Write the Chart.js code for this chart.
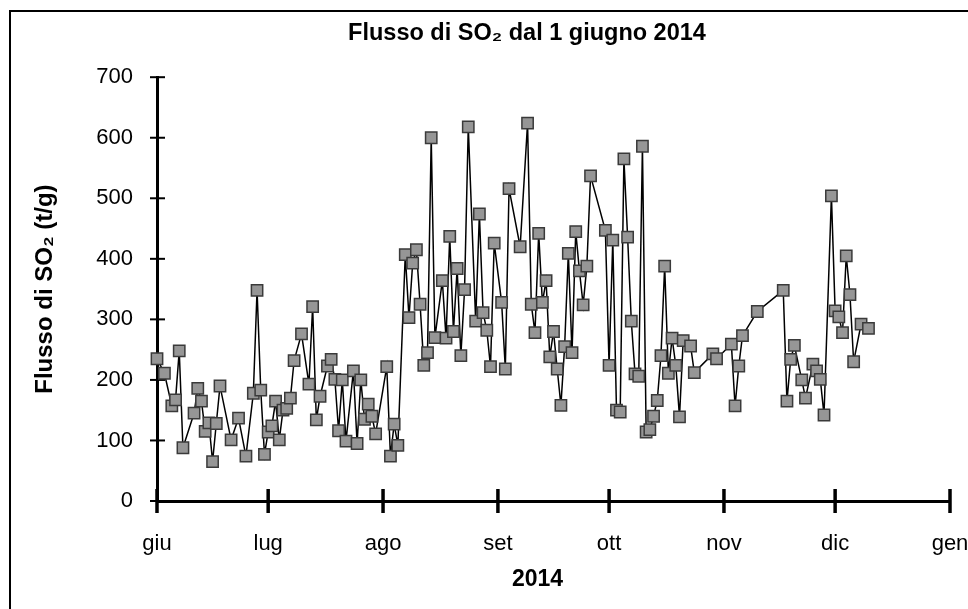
<!DOCTYPE html>
<html>
<head>
<meta charset="utf-8">
<script src="https://cdn.jsdelivr.net/npm/chart.js@4.4.1/dist/chart.umd.min.js"></script>
<style>
  html, body { margin: 0; padding: 0; background: #fff; overflow: hidden; }
  #riquadro {
    position: absolute; left: 9px; top: 10px;
    width: 1032px; height: 640px;
    border: 2px solid #000;
  }
  #grafico { display: block; }
</style>
</head>
<body>
<div id="riquadro"><canvas id="grafico" width="1032" height="640"></canvas></div>
<script>
// giorni dal 1 giugno 2014
const giorni = [0,2,4,5,6,7,10,11,12,13,14,15,16,17,20,22,24,26,27,28,
  29,30,31,32,33,34,35,36,37,39,41,42,43,44,46,47,48,49,50,51,
  53,54,55,56,57,58,59,62,63,64,65,67,68,69,70,71,72,73,74,75,
  77,78,79,80,81,82,83,84,86,87,88,89,90,91,93,94,95,98,100,101,
  102,103,104,105,106,107,108,109,110,111,112,113,114,115,116,117,121,122,123,124,
  125,126,127,128,129,130,131,132,133,134,135,136,137,138,139,140,141,142,144,145,
  150,151,155,156,157,158,162,169,170,171,172,174,175,177,178,179,180,182,183,184,
  185,186,187,188,190,192];

// flusso di SO2 (t/g)
const flusso = [235,211,157,167,248,88,145,186,165,115,129,65,128,190,101,137,74,178,348,183,
  77,114,124,165,101,150,153,170,232,276,193,321,134,173,223,234,201,116,200,99,
  215,95,200,135,160,140,111,222,74,127,92,407,303,393,415,325,224,245,600,270,
  364,269,437,280,384,240,349,618,297,474,311,282,222,426,328,218,516,420,624,325,
  278,442,328,364,238,280,218,158,255,409,245,445,380,324,388,537,447,224,431,150,
  147,565,436,297,210,206,586,114,118,140,166,240,388,211,269,224,139,265,256,212,
  243,235,259,157,223,273,313,348,165,234,257,200,170,226,215,201,142,504,314,304,
  278,405,341,230,292,285];

// inizio di ogni mese (giorni dal 1 giugno) e nomi
const inizioMesi = [0, 30, 61, 92, 122, 153, 183, 214];
const nomiMesi = ['giu', 'lug', 'ago', 'set', 'ott', 'nov', 'dic', 'gen'];

const font = "'Liberation Sans', Arial, sans-serif";

// tacche a croce sugli assi
const tacche = {
  id: 'tacche',
  beforeDatasetsDraw(chart) {
    const { ctx, scales: { x, y } } = chart;
    ctx.save();
    ctx.strokeStyle = '#000';
    ctx.lineWidth = 2;
    y.ticks.forEach(t => {
      const py = y.getPixelForValue(t.value);
      ctx.beginPath();
      ctx.moveTo(x.left - 7, py);
      ctx.lineTo(x.left + 8, py);
      ctx.stroke();
    });
    ctx.lineWidth = 3.5;
    x.ticks.forEach(t => {
      const px = x.getPixelForValue(t.value);
      ctx.beginPath();
      ctx.moveTo(px, y.bottom - 12);
      ctx.lineTo(px, y.bottom + 12);
      ctx.stroke();
    });
    ctx.restore();
  }
};

const punti = giorni.map((g, i) => ({ x: g, y: flusso[i] }));

new Chart(document.getElementById('grafico'), {
  type: 'line',
  data: {
    datasets: [{
      data: punti,
      borderColor: '#000',
      borderWidth: 1.5,
      pointStyle: 'rect',
      pointRadius: 8,
      pointBackgroundColor: '#969696',
      pointBorderColor: '#3a3a3a',
      pointBorderWidth: 1.5,
      tension: 0,
      clip: false
    }]
  },
  options: {
    responsive: false,
    animation: false,
    devicePixelRatio: 1,
    layout: { padding: { left: 0, right: 0, top: 0, bottom: 41 } },
    plugins: {
      legend: { display: false },
      tooltip: { enabled: false },
      title: {
        display: true,
        text: 'Flusso di SO\u2082 dal 1 giugno 2014',
        color: '#000',
        font: { family: font, size: 23.5, weight: 'bold' },
        padding: { top: 7, bottom: 30 }
      }
    },
    scales: {
      x: {
        type: 'linear',
        min: 0,
        max: 214,
        afterBuildTicks: s => { s.ticks = inizioMesi.map(v => ({ value: v })); },
        afterFit: s => { s.height = 110; },
        grid: { display: false, drawTicks: false },
        border: { display: true, color: '#000', width: 3 },
        ticks: {
          color: '#000',
          font: { family: font, size: 22 },
          padding: 30,
          maxRotation: 0,
          autoSkip: false,
          callback: v => nomiMesi[inizioMesi.indexOf(v)]
        },
        title: {
          display: true,
          text: '2014\u00a0\u00a0\u00a0\u00a0\u00a0',
          color: '#000',
          font: { family: font, size: 23, weight: 'bold' },
          padding: { top: 0, bottom: 18 }
        }
      },
      y: {
        min: 0,
        max: 700,
        afterFit: s => { s.width = 146; },
        grid: { display: false, drawTicks: false },
        border: { display: true, color: '#000', width: 3 },
        ticks: {
          stepSize: 100,
          color: '#000',
          font: { family: font, size: 22 },
          padding: 24
        },
        title: {
          display: true,
          text: 'Flusso di SO\u2082 (t/g)',
          color: '#000',
          font: { family: font, size: 24, weight: 'bold' },
          padding: { top: 20, bottom: 0 }
        }
      },
      // spazio vuoto a destra dell'area del grafico
      destra: {
        type: 'linear',
        axis: 'y',
        position: 'right',
        afterFit: s => { s.width = 93; },
        grid: { display: false, drawTicks: false },
        border: { display: false },
        ticks: { display: false }
      }
    }
  },
  plugins: [tacche]
});
</script>
</body>
</html>
